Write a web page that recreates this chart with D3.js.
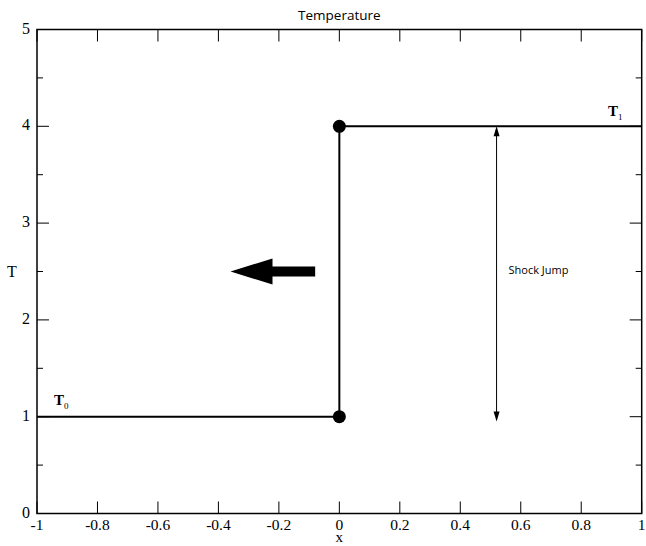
<!DOCTYPE html>
<html>
<head>
<meta charset="utf-8">
<script src="https://cdn.jsdelivr.net/npm/d3@7"></script>
<style>
  body { margin: 0; background: #fff; }
  svg { display: block; }
</style>
</head>
<body>
<div id="chart"></div>
<script>
// step profile of the shock
const stepX = [-1, 0, 0, 1]
const stepT = [1, 1, 4, 4]
const markerX = [0, 0]
const markerT = [1, 4]
const xTicks = [-1, -0.8, -0.6, -0.4, -0.2, 0, 0.2, 0.4, 0.6, 0.8, 1]
const yTicks = [0, 1, 2, 3, 4, 5]
const yMinorTicks = [0.5, 1.5, 2.5, 3.5, 4.5]
// motion arrow and jump arrow (data coords)
const moveArrow = { x0: -0.08, x1: -0.36, t: 2.5 }
const jumpArrow = { x: 0.52, t0: 4, t1: 0.95 }

const W = 646, H = 546
const margin = { top: 29.5, right: 4.3, bottom: 32.5, left: 37 }

const svg = d3.select("#chart").append("svg")
  .attr("width", W).attr("height", H)

const x = d3.scaleLinear().domain([-1, 1]).range([margin.left, W - margin.right])
const y = d3.scaleLinear().domain([0, 5]).range([H - margin.bottom, margin.top])

const serif = "'Liberation Serif', 'DejaVu Serif', serif"
const sans = "'Open Sans', 'Noto Sans', sans-serif"

// frame
svg.append("rect")
  .attr("x", x(-1)).attr("y", y(5))
  .attr("width", x(1) - x(-1)).attr("height", y(0) - y(5))
  .attr("fill", "none").attr("stroke", "#000").attr("stroke-width", 1.5)

// ticks, pointing inward on all sides
const tickG = svg.append("g").attr("stroke", "#000").attr("stroke-width", 1)
xTicks.forEach(v => {
  tickG.append("line").attr("x1", x(v)).attr("x2", x(v)).attr("y1", y(0)).attr("y2", y(0) - 12)
  tickG.append("line").attr("x1", x(v)).attr("x2", x(v)).attr("y1", y(5)).attr("y2", y(5) + 12)
})
yTicks.forEach(v => {
  tickG.append("line").attr("x1", x(-1)).attr("x2", x(-1) + 12).attr("y1", y(v)).attr("y2", y(v))
  tickG.append("line").attr("x1", x(1)).attr("x2", x(1) - 12).attr("y1", y(v)).attr("y2", y(v))
})
yMinorTicks.forEach(v => {
  tickG.append("line").attr("x1", x(-1)).attr("x2", x(-1) + 6).attr("y1", y(v)).attr("y2", y(v))
  tickG.append("line").attr("x1", x(1)).attr("x2", x(1) - 6).attr("y1", y(v)).attr("y2", y(v))
})

// tick labels (plain hyphen for negatives, as in the original)
svg.append("g").selectAll("text").data(xTicks).enter().append("text")
  .attr("x", d => x(d)).attr("y", y(0) + 16)
  .attr("text-anchor", "middle")
  .style("font-family", serif).style("font-size", "15.5px")
  .text(d => String(d))

svg.append("g").selectAll("text").data(yTicks).enter().append("text")
  .attr("x", x(-1) - 7).attr("y", d => y(d) + 4)
  .attr("text-anchor", "end")
  .style("font-family", serif).style("font-size", "16px")
  .text(d => d)

// axis titles
svg.append("text").attr("x", (x(-1) + x(1)) / 2).attr("y", 20)
  .attr("text-anchor", "middle")
  .style("font-family", sans).style("font-size", "13.5px")
  .text("Temperature")
svg.append("text").attr("x", x(0)).attr("y", 542)
  .attr("text-anchor", "middle")
  .style("font-family", serif).style("font-size", "15px")
  .text("x")
svg.append("text").attr("x", 12).attr("y", y(2.5) + 5)
  .attr("text-anchor", "middle")
  .style("font-family", serif).style("font-size", "16px")
  .text("T")

// step line
const line = d3.line().x(d => x(d[0])).y(d => y(d[1]))
svg.append("path")
  .datum(stepX.map((v, i) => [v, stepT[i]]))
  .attr("d", line)
  .attr("fill", "none").attr("stroke", "#000").attr("stroke-width", 2)

svg.append("g").selectAll("circle").data(markerX).enter().append("circle")
  .attr("cx", d => x(d)).attr("cy", (d, i) => y(markerT[i]))
  .attr("r", 6.5).attr("fill", "#000")

// big motion arrow
const ax0 = x(moveArrow.x0), ax1 = x(moveArrow.x1), ay = y(moveArrow.t)
const headLen = 42, headHalf = 13, shaftHalf = 5
svg.append("path")
  .attr("d", `M${ax0},${ay - shaftHalf} L${ax1 + headLen},${ay - shaftHalf} L${ax1 + headLen},${ay - headHalf}
    L${ax1},${ay} L${ax1 + headLen},${ay + headHalf} L${ax1 + headLen},${ay + shaftHalf} L${ax0},${ay + shaftHalf}Z`)
  .attr("fill", "#000")

// double-headed jump arrow
const jx = x(jumpArrow.x), jy0 = y(jumpArrow.t0), jy1 = y(jumpArrow.t1)
svg.append("line").attr("x1", jx).attr("x2", jx).attr("y1", jy0 + 2).attr("y2", jy1 - 2)
  .attr("stroke", "#000").attr("stroke-width", 1)
svg.append("path").attr("d", `M${jx},${jy0} L${jx - 3},${jy0 + 10} L${jx + 3},${jy0 + 10}Z`).attr("fill", "#000")
svg.append("path").attr("d", `M${jx},${jy1} L${jx - 3},${jy1 - 10} L${jx + 3},${jy1 - 10}Z`).attr("fill", "#000")

svg.append("text").attr("x", jx + 12).attr("y", y(2.5) + 2)
  .style("font-family", sans).style("font-size", "11px")
  .text("Shock Jump")

// T0 / T1 labels
function tLabel(px, py, sub) {
  const t = svg.append("text").attr("x", px).attr("y", py)
    .style("font-family", serif).style("font-size", "15px").style("font-weight", "bold")
  t.append("tspan").text("T")
  t.append("tspan").attr("dy", 4).style("font-size", "9px").style("font-weight", "normal").text(sub)
}
tLabel(54, 405, "0")
tLabel(608, 116, "1")
</script>
</body>
</html>
